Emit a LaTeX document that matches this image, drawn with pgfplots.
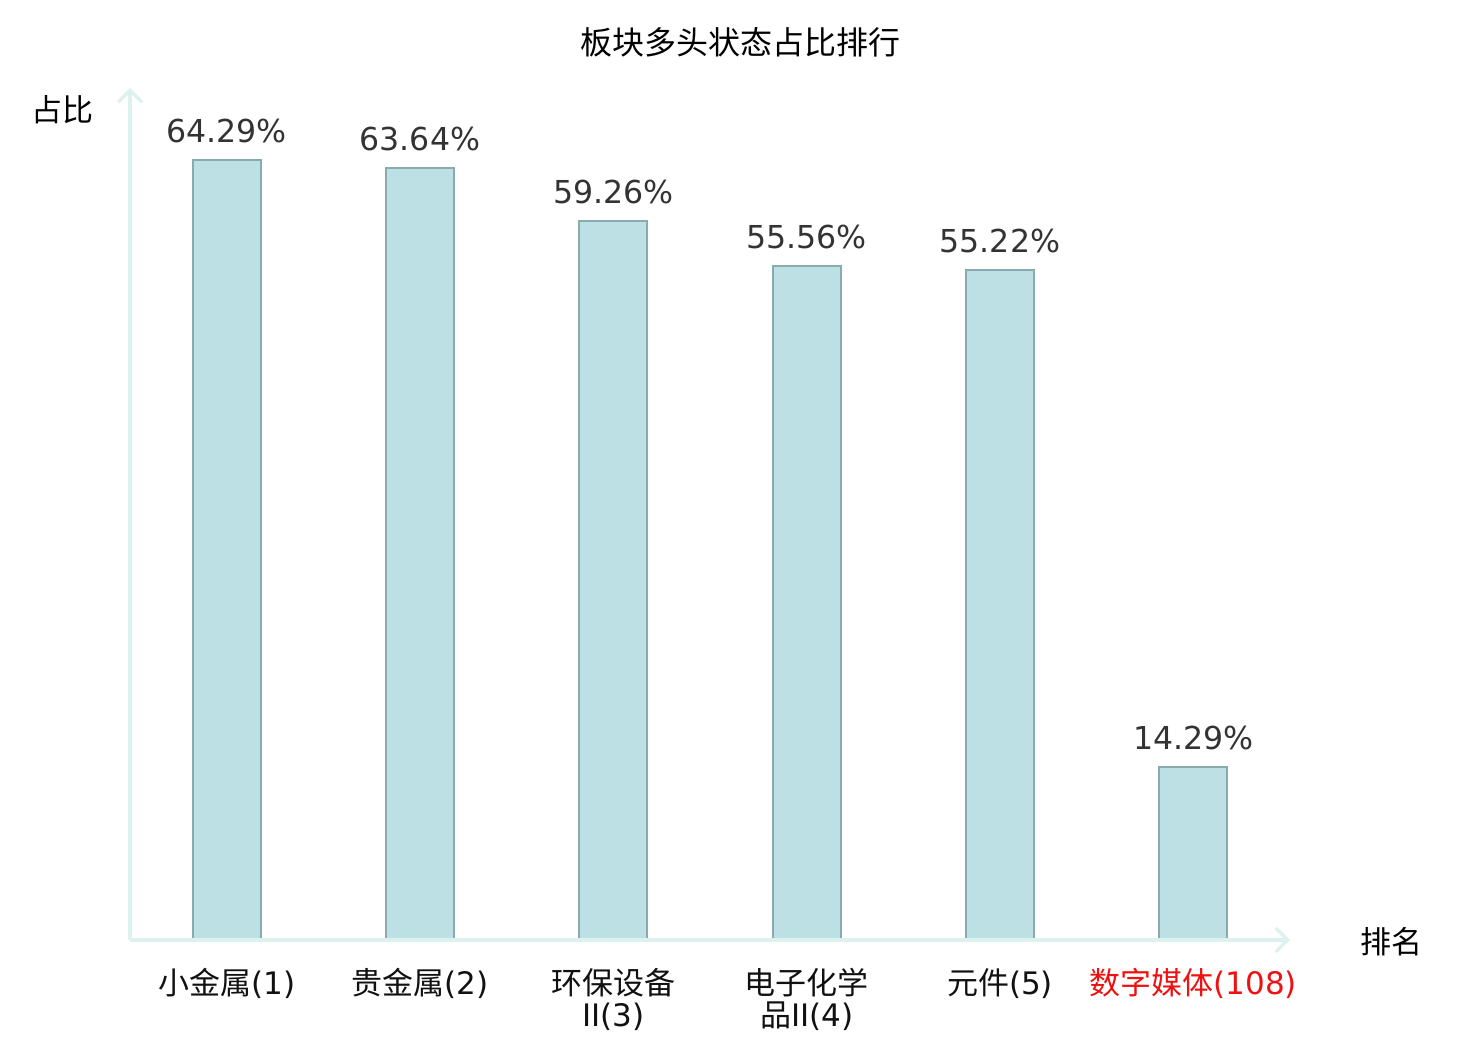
\documentclass[border=0pt]{standalone}
\usepackage{pgfplots}
\pgfplotsset{compat=1.18}
\usetikzlibrary{arrows.meta}
\usepackage{fontspec}
\setmainfont{DejaVu Sans}
\newfontfamily\cjk{Noto Sans CJK SC}
\definecolor{barfill}{HTML}{BCE0E3}
\definecolor{baredge}{HTML}{8AABAB}
\definecolor{axcol}{HTML}{DDF2EF}
\definecolor{valcol}{HTML}{333333}
\definecolor{hot}{HTML}{EE1111}
\definecolor{tickcol}{HTML}{111111}
\begin{document}
\begin{tikzpicture}[x=1pt,y=1pt]
\path[use as bounding box] (0,0) rectangle (740,520);
\begin{axis}[
  at={(65pt,50pt)}, anchor=south west,
  scale only axis, width=580pt, height=426pt,
  xmin=-0.5, xmax=5.5, ymin=0, ymax=70.24,
  clip=false,
  axis line style={draw=none},
  ytick=\empty,
  xtick={0,1,2,3,4,5},
  major tick length=0pt,
  /pgf/number format/assume math mode=true,
  xticklabels={{{\cjk 小金属}(1)},{{\cjk 贵金属}(2)},{{\cjk 环保设备}\\II(3)},{{\cjk 电子化学}\\{\cjk 品}II(4)},{{\cjk 元件}(5)},{\textcolor{hot}{{\cjk 数字媒体}(108)}}},
  xticklabel style={font=\fontsize{15.5}{16}\selectfont, text=tickcol, align=center, anchor=north, inner sep=0pt, yshift=-14pt},
]
\addplot[ybar, bar width=34pt, fill=barfill, draw=baredge, line width=0.9pt,
  nodes near coords={\pgfmathprintnumber[fixed,precision=2,fixed zerofill,assume math mode=true]{\pgfplotspointmeta}\%},
  every node near coord/.append style={font=\fontsize{15.8}{16}\selectfont, text=valcol, anchor=south, inner sep=0pt, yshift=8pt}]
  coordinates {(0,64.29) (1,63.64) (2,59.26) (3,55.56) (4,55.22) (5,14.29)};
\draw[axcol, line width=1.6pt, -{Straight Barb[length=6pt,width=12pt,line width=1.6pt]}] (axis cs:-0.5,0) -- (axis cs:5.5,0);
\draw[axcol, line width=1.6pt, -{Straight Barb[length=6pt,width=12pt,line width=1.6pt]}] (axis cs:-0.5,0) -- (axis cs:-0.5,70.24);
\end{axis}
\node[font=\cjk\fontsize{16}{18}\selectfont] at (370,499) {板块多头状态占比排行};
\node[font=\cjk\fontsize{15.5}{16}\selectfont] at (31.5,465) {占比};
\node[font=\cjk\fontsize{15.5}{16}\selectfont] at (695.5,49) {排名};
\end{tikzpicture}
\end{document}
